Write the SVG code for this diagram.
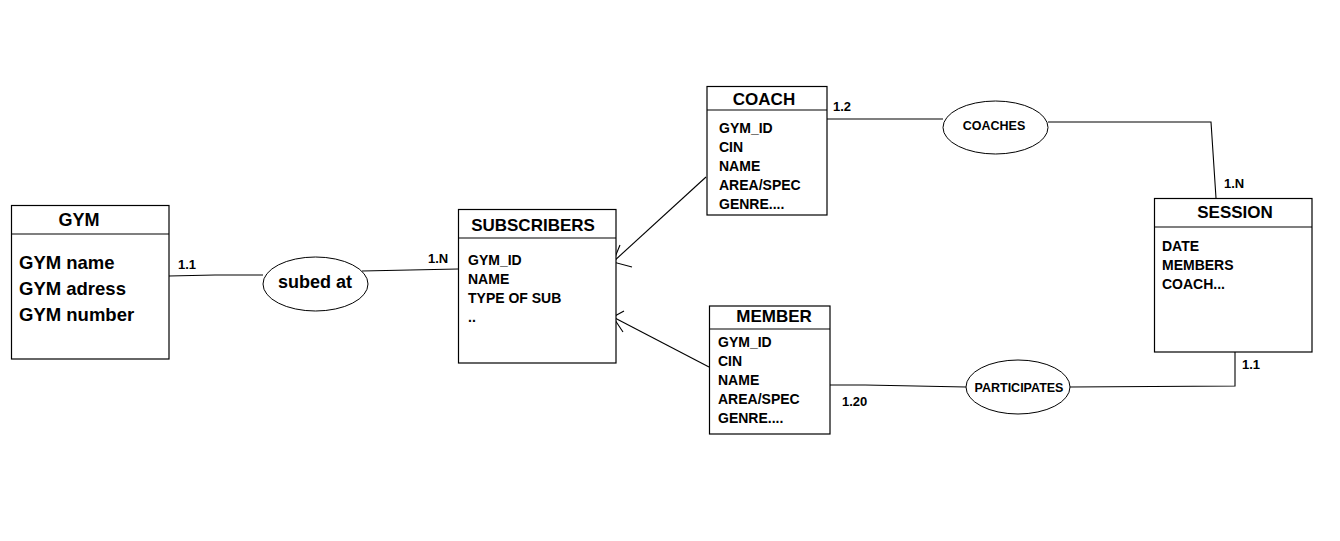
<svg xmlns="http://www.w3.org/2000/svg" width="1340" height="541" viewBox="0 0 1340 541">
<style>
.box{fill:#fff;stroke:#000;stroke-width:1.2}
.sep{stroke:#000;stroke-width:1.2}
.ln{fill:none;stroke:#000;stroke-width:1.1}
.rel{fill:#fff;stroke:#000;stroke-width:1}
text{font-family:"Liberation Sans",Arial,sans-serif;font-weight:bold;fill:#000}
.ttl{font-size:17px;text-anchor:middle}
.att{font-size:14px}
.big{font-size:18.5px}
.rl{font-size:12.5px;text-anchor:middle}
.card{font-size:13px}
</style>
<rect width="1340" height="541" fill="#fff"/>
<g id="connectors">
  <polyline class="ln" points="169,276 215,275 263,275"/>
  <polyline class="ln" points="362,271 458,269"/>
  <line class="ln" x1="706" y1="177" x2="613" y2="262"/>
  <polyline class="ln" points="620,245 613,262 632,267"/>
  <line class="ln" x1="709" y1="367" x2="613" y2="317"/>
  <polyline class="ln" points="624,311 613,317 623,332"/>
  <polyline class="ln" points="827,119 943,119"/>
  <polyline class="ln" points="1048,122 1211,122 1216,198"/>
  <polyline class="ln" points="830,385 865,385 966,387"/>
  <polyline class="ln" points="1070,387 1235,386 1235,352"/>
  <text class="card" x="178" y="269">1.1</text>
  <text class="card" x="428" y="263">1.N</text>
  <text class="card" x="833" y="111">1.2</text>
  <text class="card" x="1224" y="188">1.N</text>
  <text class="card" x="842" y="406">1.20</text>
  <text class="card" x="1242" y="369">1.1</text>
</g>
<g id="gym">
  <rect class="box" x="11.5" y="205.5" width="157.5" height="153.5"/>
  <line class="sep" x1="11.5" y1="234" x2="169" y2="234"/>
  <text class="ttl" x="79" y="226" style="font-size:18px">GYM</text>
  <text class="big" x="19" y="269">GYM name</text>
  <text class="big" x="19" y="295">GYM adress</text>
  <text class="big" x="19" y="321">GYM number</text>
</g>
<g id="subed-at">
  <ellipse class="rel" cx="315.5" cy="284" rx="52.5" ry="27"/>
  <text x="315" y="288" style="font-size:18px;text-anchor:middle">subed at</text>
</g>
<g id="subscribers">
  <rect class="box" x="458.5" y="209.5" width="157.5" height="153.5"/>
  <line class="sep" x1="458.5" y1="238" x2="616" y2="238"/>
  <text class="ttl" x="533" y="231">SUBSCRIBERS</text>
  <text class="att" x="468" y="265">GYM_ID</text>
  <text class="att" x="468" y="284">NAME</text>
  <text class="att" x="468" y="303">TYPE OF SUB</text>
  <text class="att" x="468" y="322">..</text>
</g>
<g id="coach">
  <rect class="box" x="707" y="86.5" width="120" height="128.5"/>
  <line class="sep" x1="707" y1="110" x2="827" y2="110"/>
  <text class="ttl" x="764" y="105">COACH</text>
  <text class="att" x="719" y="133">GYM_ID</text>
  <text class="att" x="719" y="152">CIN</text>
  <text class="att" x="719" y="171">NAME</text>
  <text class="att" x="719" y="190">AREA/SPEC</text>
  <text class="att" x="719" y="209">GENRE....</text>
</g>
<g id="coaches">
  <ellipse class="rel" cx="995.5" cy="127.5" rx="52.5" ry="26.5"/>
  <text class="rl" x="994" y="130">COACHES</text>
</g>
<g id="member">
  <rect class="box" x="709.5" y="306" width="120.5" height="128"/>
  <line class="sep" x1="709.5" y1="329" x2="830" y2="329"/>
  <text class="ttl" x="774" y="322">MEMBER</text>
  <text class="att" x="718" y="347">GYM_ID</text>
  <text class="att" x="718" y="366">CIN</text>
  <text class="att" x="718" y="385">NAME</text>
  <text class="att" x="718" y="404">AREA/SPEC</text>
  <text class="att" x="718" y="423">GENRE....</text>
</g>
<g id="participates">
  <ellipse class="rel" cx="1018" cy="387" rx="52" ry="27"/>
  <text class="rl" x="1019" y="392">PARTICIPATES</text>
</g>
<g id="session">
  <rect class="box" x="1154.5" y="198.5" width="157.5" height="153.5"/>
  <line class="sep" x1="1154.5" y1="227" x2="1312" y2="227"/>
  <text class="ttl" x="1235" y="218">SESSION</text>
  <text class="att" x="1162" y="251">DATE</text>
  <text class="att" x="1162" y="270">MEMBERS</text>
  <text class="att" x="1162" y="289">COACH...</text>
</g>
</svg>
